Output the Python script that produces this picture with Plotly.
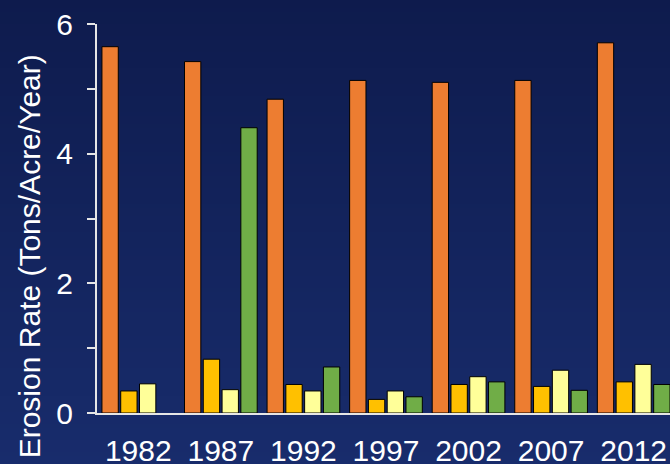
import plotly.graph_objects as go

years = ["1982", "1987", "1992", "1997", "2002", "2007", "2012"]
series_a = [5.65, 5.42, 4.84, 5.13, 5.10, 5.13, 5.71]   # orange
series_b = [0.34, 0.83, 0.44, 0.21, 0.44, 0.41, 0.48]   # gold
series_c = [0.45, 0.36, 0.34, 0.34, 0.56, 0.66, 0.75]   # light yellow
series_d = [None, 4.40, 0.71, 0.25, 0.48, 0.35, 0.44]   # green
colors = ["#ED7D31", "#FFC000", "#FFFF99", "#70AD47"]

W, H = 670, 464
ml, mr, mt, mb = 96.7, 0, 24, 51
plot_h = H - mt - mb

fig = go.Figure()
for vals, col in zip([series_a, series_b, series_c, series_d], colors):
    fig.add_trace(go.Bar(x=years, y=vals, marker=dict(color=col, line=dict(color="#000000", width=1)),
                         showlegend=False))

# vertical gradient background using bands
top = (14, 27, 77)
bot = (24, 44, 108)
n = 116
shapes = []
for i in range(n):
    p0 = H * i / n
    p1 = H * (i + 1) / n + 0.5
    t = (i + 0.5) / n
    c = tuple(round(top[k] + (bot[k] - top[k]) * t) for k in range(3))
    shapes.append(dict(type="rect", xref="paper", yref="paper", layer="below",
                       x0=-0.3, x1=1.1,
                       y0=(H - mb - p1) / plot_h, y1=(H - mb - p0) / plot_h,
                       fillcolor="rgb(%d,%d,%d)" % c, line=dict(width=0)))

font = "Arial, Liberation Sans, sans-serif"
fig.update_layout(
    width=W, height=H,
    margin=dict(l=ml, r=mr, t=mt, b=mb, pad=0, autoexpand=False),
    paper_bgcolor="rgb(18,34,90)",
    plot_bgcolor="rgba(0,0,0,0)",
    barmode="group", bargap=0.09, bargroupgap=0.13,
    shapes=shapes,
    font=dict(family=font, color="white", size=30),
    xaxis=dict(type="category", range=[-0.5, 6.44], showgrid=False, zeroline=False,
               showline=True, linecolor="#E6E6E6", linewidth=2, ticks="", automargin=False,
               tickfont=dict(size=30, color="white"), ticklabelstandoff=10),
    yaxis=dict(range=[0, 6], showgrid=False, zeroline=False, showline=True, automargin=False,
               linecolor="#E6E6E6", linewidth=2, ticks="outside", ticklen=8,
               tickcolor="#E6E6E6", tickwidth=2,
               tickvals=[0, 1, 2, 3, 4, 5, 6], ticktext=["0", "", "2", "", "4", "", "6"],
               tickfont=dict(size=30, color="white"), ticklabelstandoff=8),
    annotations=[dict(text="Erosion Rate (Tons/Acre/Year)", textangle=-90,
                      xref="paper", yref="paper",
                      x=-(ml - 29) / (W - ml - mr), y=(H - mb - 256) / plot_h,
                      xanchor="center", yanchor="middle", showarrow=False,
                      font=dict(size=30, color="white", family=font))],
)

fig.write_html("out.html")
